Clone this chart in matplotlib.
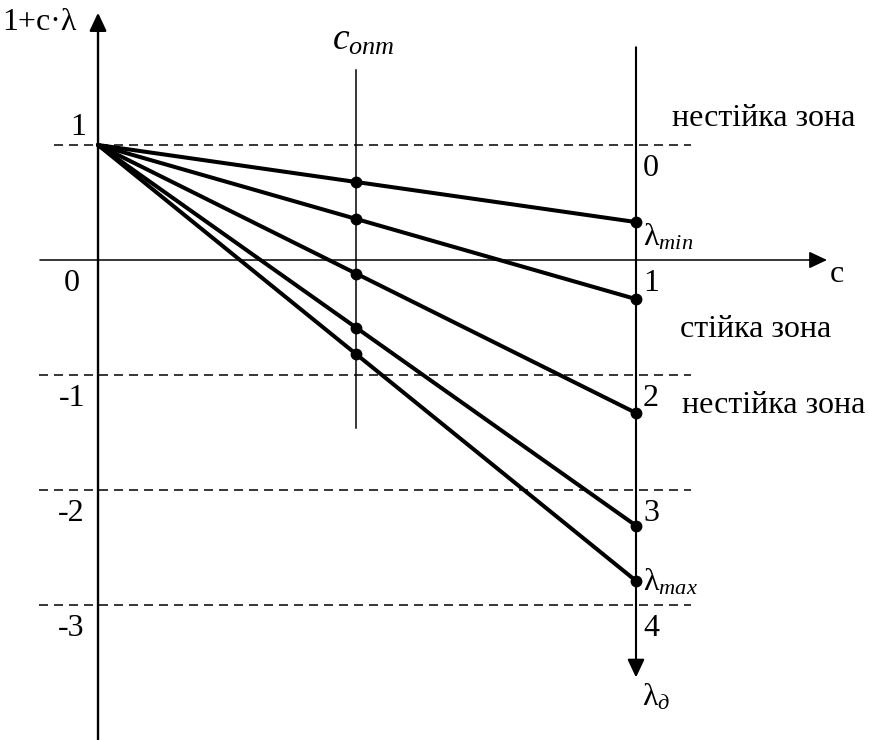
import matplotlib
matplotlib.use("Agg")
import matplotlib.pyplot as plt

plt.rcParams['font.family'] = ['Liberation Serif', 'DejaVu Serif']
plt.rcParams['mathtext.fontset'] = 'custom'
plt.rcParams['mathtext.rm'] = 'Liberation Serif'
plt.rcParams['mathtext.it'] = 'Liberation Serif:italic'
plt.rcParams['mathtext.bf'] = 'Liberation Serif:bold'
plt.rcParams['mathtext.default'] = 'it'
plt.rcParams['lines.scale_dashes'] = False

# data
lambdas = [-0.67, -1.34, -2.33, -3.31, -3.79]   # slopes of 1 + c*lambda
c_opt = 0.48
c_max = 1.0
zone_levels = [1, -1, -2, -3]                     # dashed borders
y_ticks = [1, 0, -1, -2, -3]
lam_ticks = [0, 1, 2, 3, 4]                       # lambda_d scale, 0 at level 1

FS = 23

fig = plt.figure(figsize=(8.69, 7.40), dpi=100)
ax = fig.add_axes([0, 0, 1, 1])
ax.set_xlim(-0.1822, 1.4331)
ax.set_ylim(-4.174, 2.261)
ax.axis('off')

def arrow(p0, p1, lw):
    ax.annotate('', xy=p1, xytext=p0,
                arrowprops=dict(arrowstyle='-|>,head_length=0.55,head_width=0.26',
                                mutation_scale=20, lw=lw, color='k',
                                shrinkA=0, shrinkB=0))

# axes
arrow((-0.108, 0), (1.355, 0), 1.1)
arrow((0, -4.2), (0, 2.15), 1.7)
arrow((c_max, 1.85), (c_max, -3.63), 1.5)
ax.plot([c_opt, c_opt], [1.65, -1.46], color='k', lw=1.1)

# dashed zone borders
for lv in zone_levels:
    x0 = -0.082 if lv == 1 else -0.110
    ax.plot([x0, 1.102], [lv, lv], color='k', lw=1.1, dashes=(6.5, 4.3))

# lines 1 + c*lambda and their points
for lam in lambdas:
    ax.plot([0, c_max], [1, 1 + lam], color='k', lw=2.9, solid_capstyle='round')
    ax.plot([c_opt, c_max], [1 + c_opt * lam, 1 + lam], 'o', color='k', ms=7.5)

# labels on the vertical axis
for t in y_ticks:
    if t == 1:
        ax.annotate(str(t), (0, t), xytext=(-14, 7), textcoords='offset points',
                    ha='center', va='baseline', fontsize=FS)
    else:
        ax.annotate(str(t), (0, t), xytext=(-19, -22), textcoords='offset points',
                    ha='center', va='baseline', fontsize=FS)

# lambda_d scale on the c = 1 line
for k in lam_ticks:
    ax.annotate(str(k), (c_max, 1 - k), xytext=(5, -22), textcoords='offset points',
                ha='left', va='baseline', fontsize=FS)
ax.annotate('λ$_{min}$', (c_max, 1 + lambdas[0]), xytext=(5, -17),
            textcoords='offset points', ha='left', va='baseline', fontsize=FS)
ax.annotate('λ$_{max}$', (c_max, 1 + lambdas[-1]), xytext=(5, -7),
            textcoords='offset points', ha='left', va='baseline', fontsize=FS)

ax.text(-0.178, 2.0, '1+c·λ', fontsize=FS, ha='left', va='baseline')
ax.text(1.361, -0.19, 'c', fontsize=FS, ha='left', va='baseline')
ax.text(c_max + 0.012, -3.87, 'λ$_{д}$', fontsize=FS, ha='left', va='baseline')
ax.text(0.435, 1.826, '$c_{опт}$', fontsize=FS + 4, ha='left', va='baseline')

ax.text(1.067, 1.165, 'нестійка зона', fontsize=FS, ha='left', va='baseline')
ax.text(1.082, -0.67, 'стійка зона', fontsize=FS, ha='left', va='baseline')
ax.text(1.085, -1.33, 'нестійка зона', fontsize=FS, ha='left', va='baseline')

fig.savefig('out.png', dpi=100)
